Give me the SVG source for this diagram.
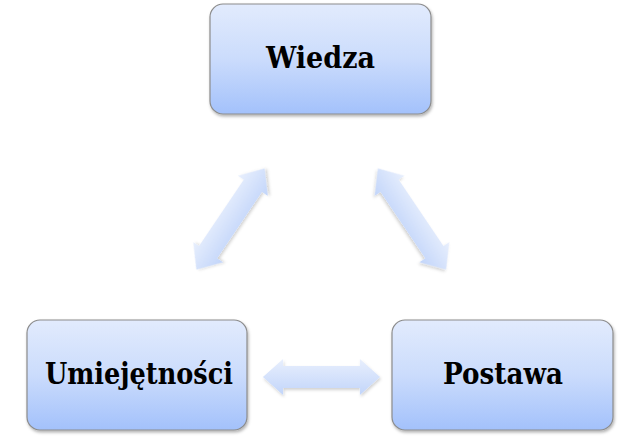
<svg xmlns="http://www.w3.org/2000/svg" width="642" height="439" viewBox="0 0 642 439">
<defs>
<linearGradient id="boxg" x1="0" y1="0" x2="0" y2="1">
<stop offset="0" stop-color="#e2ebfd"/>
<stop offset="0.5" stop-color="#cbdcfc"/>
<stop offset="1" stop-color="#a3c1fb"/>
</linearGradient>
<linearGradient id="arrg" x1="0" y1="0" x2="0" y2="1">
<stop offset="0" stop-color="#e8effd"/>
<stop offset="1" stop-color="#c2d5fa"/>
</linearGradient>
<filter id="sh" x="-20%" y="-20%" width="140%" height="150%">
<feDropShadow dx="1" dy="2" stdDeviation="1.6" flood-color="#000" flood-opacity="0.3"/>
</filter>
<filter id="ash" x="-20%" y="-30%" width="140%" height="160%">
<feDropShadow dx="1" dy="2" stdDeviation="1.8" flood-color="#000" flood-opacity="0.18"/>
</filter>
<path id="dbl" d="M-61,0 L-40,-18 L-40,-11 L40,-11 L40,-18 L61,0 L40,18 L40,11 L-40,11 L-40,18 Z"/>
</defs>
<style>
.box{fill:url(#boxg);stroke:#8c8c8c;stroke-width:1.2;filter:url(#sh)}
.lbl{font-family:"DejaVu Serif","Liberation Serif",serif;font-weight:bold;font-size:29px;fill:#000;text-anchor:middle}
.arr{fill:url(#arrg);filter:url(#ash)}
</style>
<g id="connectors">
<use href="#dbl" class="arr" transform="translate(230.5,219) rotate(-56)"/>
<use href="#dbl" class="arr" transform="translate(412,219) rotate(56)"/>
<use href="#dbl" class="arr" transform="translate(321.5,377) scale(0.96,1)"/>
</g>
<g id="wiedza">
<rect class="box" x="210" y="4" width="221" height="110" rx="13"/>
<text class="lbl" x="320.5" y="68" textLength="109" lengthAdjust="spacingAndGlyphs">Wiedza</text>
</g>
<g id="umiejetnosci">
<rect class="box" x="27" y="320" width="220" height="110" rx="13"/>
<text class="lbl" x="139" y="384" textLength="188" lengthAdjust="spacingAndGlyphs">Umiejętności</text>
</g>
<g id="postawa">
<rect class="box" x="392" y="320" width="221" height="110" rx="13"/>
<text class="lbl" x="503" y="384" textLength="120" lengthAdjust="spacingAndGlyphs">Postawa</text>
</g>
</svg>
